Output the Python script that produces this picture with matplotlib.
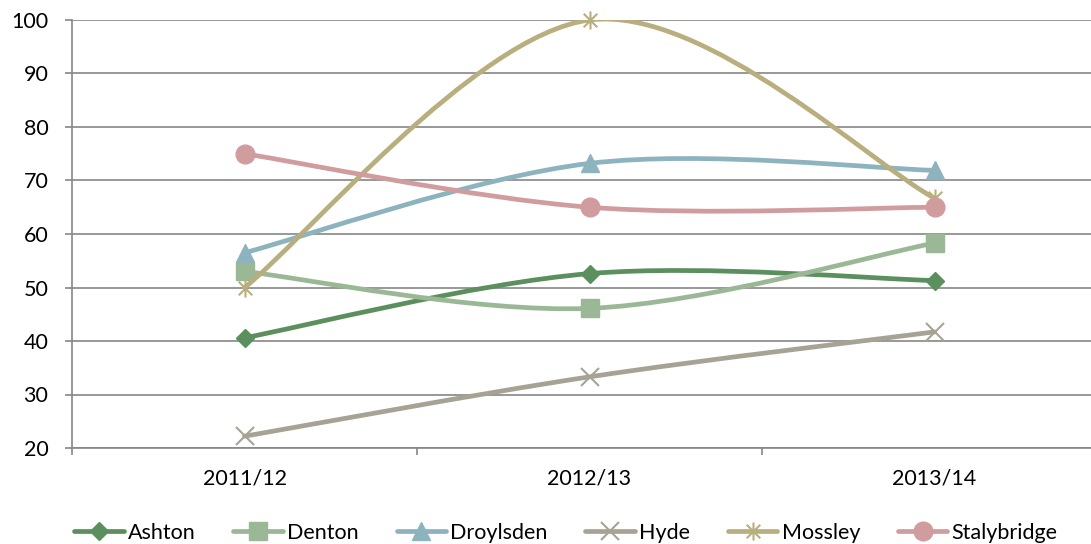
import matplotlib
matplotlib.use("Agg")
import matplotlib.pyplot as plt
from matplotlib.path import Path
from matplotlib.patches import PathPatch
from matplotlib.lines import Line2D

plt.rcParams['font.family'] = ['Lato', 'DejaVu Sans']

years = ["2011/12", "2012/13", "2013/14"]

ashton = [40.6, 52.6, 51.3]
denton = [53.0, 46.1, 58.3]
droylsden = [56.5, 73.2, 71.9]
hyde = [22.2, 33.3, 41.7]
mossley = [50.0, 100.0, 66.7]
stalybridge = [75.0, 65.0, 65.0]

names = ["Ashton", "Denton", "Droylsden", "Hyde", "Mossley", "Stalybridge"]
series = [ashton, denton, droylsden, hyde, mossley, stalybridge]
colors = ["#5B8F5D", "#9BB896", "#8DB3BE", "#A6A395", "#B8AE7E", "#D19C9E"]

# star marker: vertical stroke plus a cross
star = Path([(0, -1), (0, 1), (-0.75, -0.75), (0.75, 0.75), (-0.75, 0.75), (0.75, -0.75)],
            [Path.MOVETO, Path.LINETO, Path.MOVETO, Path.LINETO, Path.MOVETO, Path.LINETO])
markers = ["D", "s", "^", "x", star, "o"]
msizes = [9.5, 13, 13, 13, 13, 13.5]


def smooth_path(xs, ys):
    # excel-style smoothed line: cubic bezier, tangents from neighbouring points
    pts = list(zip(xs, ys))
    n = len(pts)
    verts = [pts[0]]
    codes = [Path.MOVETO]
    for i in range(n - 1):
        p0 = pts[max(i - 1, 0)]
        p1 = pts[i]
        p2 = pts[i + 1]
        p3 = pts[min(i + 2, n - 1)]
        c1 = (p1[0] + (p2[0] - p0[0]) / 6, p1[1] + (p2[1] - p0[1]) / 6)
        c2 = (p2[0] - (p3[0] - p1[0]) / 6, p2[1] - (p3[1] - p1[1]) / 6)
        verts += [c1, c2, p2]
        codes += [Path.CURVE4] * 3
    return Path(verts, codes)


fig = plt.figure(figsize=(10.91, 5.44), dpi=100)
ax = fig.add_axes([72 / 1091, 1 - 448 / 544, 1035 / 1091, 428 / 544])

x = list(range(len(years)))
grey = "#868686"
handles = []
for i, (name, vals, c, m, ms) in enumerate(zip(names, series, colors, markers, msizes)):
    patch = PathPatch(smooth_path(x, vals), fill=False, edgecolor=c, lw=3.4,
                      capstyle="round", joinstyle="round", zorder=3 + i)
    ax.add_patch(patch)
    thin = m in ("x",) or m is star
    ax.plot(x, vals, linestyle="none", marker=m, markersize=ms, color=c,
            markeredgecolor=c, markeredgewidth=1.5 if thin else 1, zorder=3 + i, clip_on=False)
    handles.append(Line2D([], [], color=c, lw=3.4, marker=m, markersize=ms,
                          markeredgecolor=c, markeredgewidth=1.5 if thin else 1,
                          solid_capstyle="round"))

ax.set_xlim(-0.5, 2.5)
ax.set_ylim(20, 100)
ax.set_yticks(range(20, 101, 10))
ax.set_xticks(x)
ax.set_xticklabels(years)
ax.set_xticks([-0.5, 0.5, 1.5, 2.5], minor=True)

ax.grid(axis="y", color=grey, lw=1.2)
ax.set_axisbelow(True)
for s in ["top", "right"]:
    ax.spines[s].set_visible(False)
for s in ["left", "bottom"]:
    ax.spines[s].set_color(grey)
    ax.spines[s].set_linewidth(1.2)

ax.tick_params(axis="y", length=5, width=1.2, color=grey, pad=12, labelsize=15.5)
ax.tick_params(axis="x", which="major", length=0, pad=15, labelsize=15.5)
ax.tick_params(axis="x", which="minor", length=5, width=1.2, color=grey)

fig.legend(handles, names, loc="center", bbox_to_anchor=(566 / 1091, 1 - 533 / 544),
           ncol=6, frameon=False, fontsize=15.5, handlelength=2.3, handletextpad=0.2,
           columnspacing=1.75, borderpad=0)

fig.savefig("out.png", dpi=100)
